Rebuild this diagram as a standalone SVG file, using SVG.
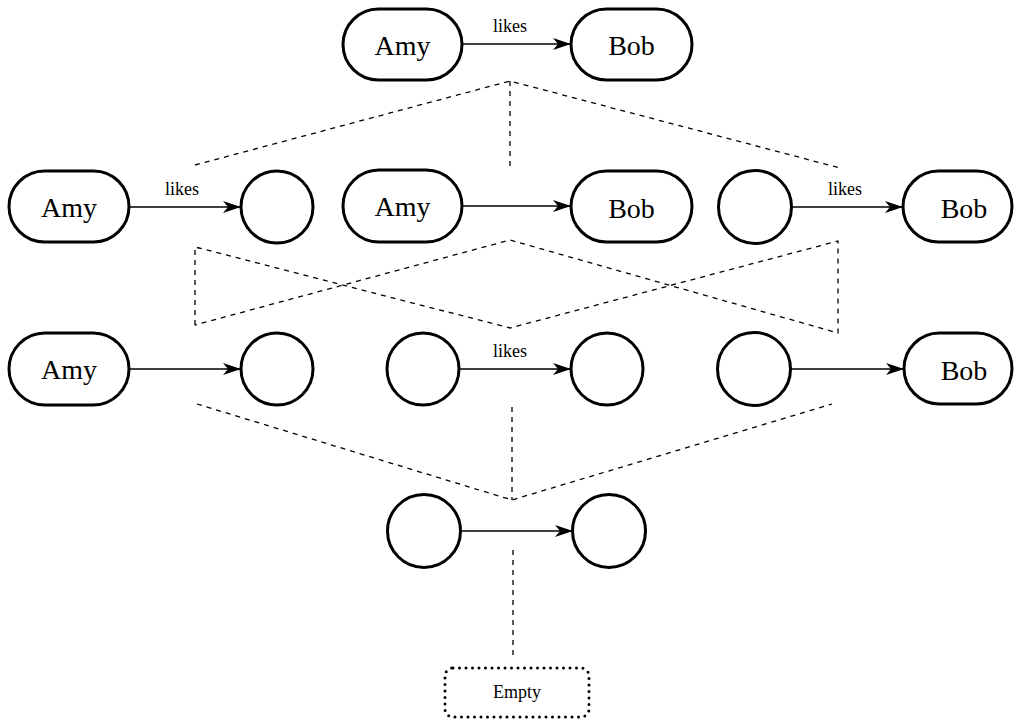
<svg xmlns="http://www.w3.org/2000/svg" width="1014" height="719" viewBox="0 0 1014 719">
  <style>
    .node { fill: #fff; stroke: #000; stroke-width: 3; }
    .empty { fill: #fff; stroke: #000; stroke-width: 3; stroke-dasharray: 0 6.5; stroke-linecap: round; }
    text { font-family: 'Times New Roman', Times, 'Liberation Serif', Tinos, 'Nimbus Roman', 'Noto Serif', 'DejaVu Serif', serif; text-anchor: middle; fill: #000; }
    .name { font-size: 28px; }
    .label { font-size: 18px; }
    .edge { stroke: #000; stroke-width: 1.5; fill: none; marker-end: url(#stealth); }
    .lattice { stroke: #000; stroke-width: 1.3; fill: none; stroke-dasharray: 5 5; }
  </style>
  <defs>
    <marker id="stealth" markerUnits="userSpaceOnUse" markerWidth="20" markerHeight="14" refX="18" refY="6" orient="auto">
      <path d="M0,0 L18,6 L0,12 L5,6 Z" fill="#000"/>
    </marker>
  </defs>
  <rect width="1014" height="719" fill="#fff"/>

  <!-- dashed lattice lines between levels -->
  <g id="lattice">
    <polyline class="lattice" points="195,165 510,81 840,168"/>
    <line class="lattice" x1="510" y1="81" x2="510" y2="168"/>
    <polyline class="lattice" points="195,325 195,247 510,328 838,241 838,333 510,240 195,325"/>
    <polyline class="lattice" points="197,404 512,500 832,404"/>
    <line class="lattice" x1="512" y1="407" x2="512" y2="500"/>
    <line class="lattice" x1="513" y1="550" x2="513" y2="660"/>
  </g>

  <!-- labelled edges -->
  <g id="connectors">
    <line class="edge" x1="462" y1="44" x2="571" y2="44"/>
    <line class="edge" x1="129" y1="207" x2="241" y2="207"/>
    <line class="edge" x1="462" y1="206" x2="571" y2="206"/>
    <line class="edge" x1="792" y1="207" x2="903" y2="207"/>
    <line class="edge" x1="129" y1="369" x2="241" y2="369"/>
    <line class="edge" x1="459" y1="369" x2="571" y2="369"/>
    <line class="edge" x1="791" y1="369" x2="904" y2="369"/>
    <line class="edge" x1="461" y1="531" x2="573" y2="531"/>
    <text class="label" x="510" y="32">likes</text>
    <text class="label" x="182" y="195">likes</text>
    <text class="label" x="845" y="195">likes</text>
    <text class="label" x="510" y="357">likes</text>
  </g>

  <!-- level 0 -->
  <g id="n-amy-top"><rect class="node" x="343" y="9" width="119" height="71" rx="35.5"/><text class="name" x="402.5" y="55">Amy</text></g>
  <g id="n-bob-top"><rect class="node" x="571" y="9" width="121" height="71" rx="35.5"/><text class="name" x="631.5" y="55">Bob</text></g>

  <!-- level 1 -->
  <g id="n-amy-1a"><rect class="node" x="9" y="171" width="120" height="71" rx="35.5"/><text class="name" x="69" y="217">Amy</text></g>
  <g id="n-var-1a"><circle class="node" cx="277" cy="207" r="36"/></g>
  <g id="n-amy-1b"><rect class="node" x="343" y="170" width="119" height="72" rx="36"/><text class="name" x="402.5" y="216">Amy</text></g>
  <g id="n-bob-1b"><rect class="node" x="571" y="171" width="121" height="71" rx="35.5"/><text class="name" x="631.5" y="218">Bob</text></g>
  <g id="n-var-1c"><circle class="node" cx="755" cy="207" r="36.5"/></g>
  <g id="n-bob-1c"><rect class="node" x="903" y="171" width="109" height="71" rx="35.5"/><text class="name" x="964" y="218">Bob</text></g>

  <!-- level 2 -->
  <g id="n-amy-2a"><rect class="node" x="9" y="333" width="120" height="72" rx="36"/><text class="name" x="69" y="379">Amy</text></g>
  <g id="n-var-2a"><circle class="node" cx="277" cy="369" r="36"/></g>
  <g id="n-var-2b"><circle class="node" cx="423" cy="369" r="36"/></g>
  <g id="n-var-2c"><circle class="node" cx="607" cy="369" r="36"/></g>
  <g id="n-var-2d"><circle class="node" cx="754" cy="369" r="36.5"/></g>
  <g id="n-bob-2d"><rect class="node" x="904" y="333" width="108" height="71" rx="35.5"/><text class="name" x="964" y="380">Bob</text></g>

  <!-- level 3 -->
  <g id="n-var-3a"><circle class="node" cx="424" cy="531" r="36.5"/></g>
  <g id="n-var-3b"><circle class="node" cx="609" cy="531" r="36.5"/></g>

  <!-- bottom -->
  <g id="n-empty"><rect class="empty" x="445" y="668" width="144" height="49" rx="8"/><text class="label" x="517" y="698">Empty</text></g>
</svg>
